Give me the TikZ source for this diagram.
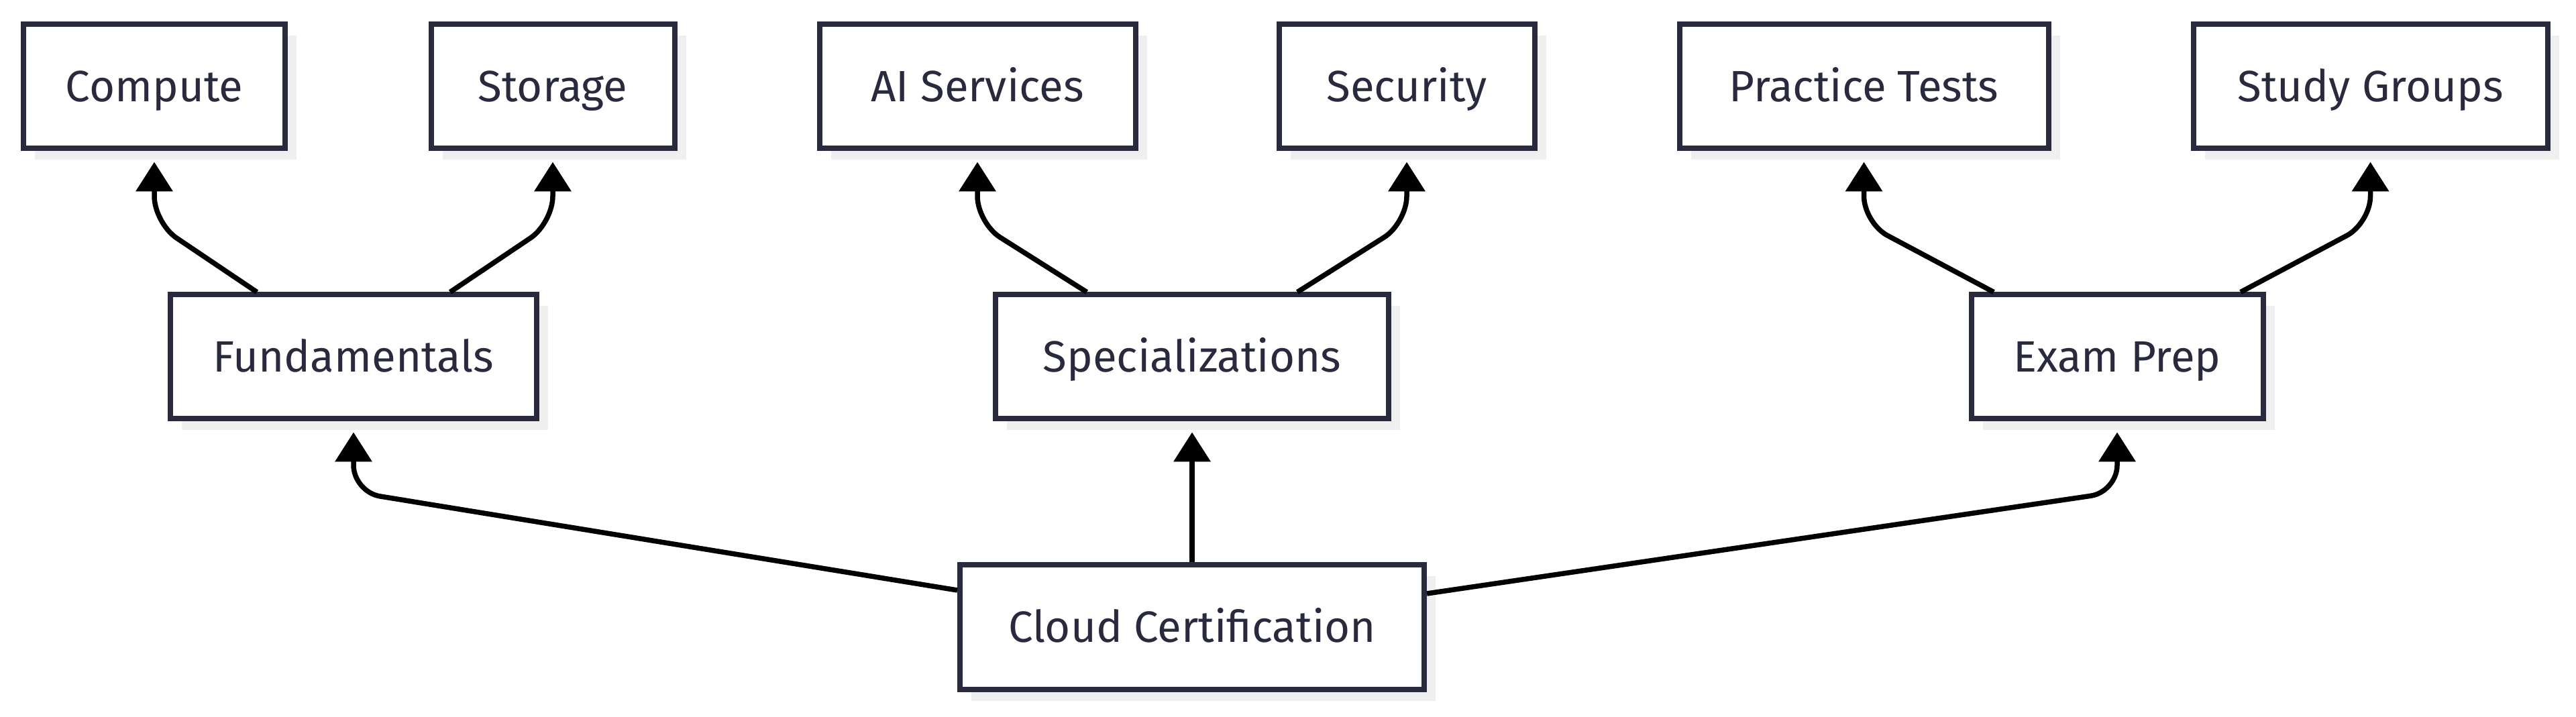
\documentclass[tikz,border=0pt]{standalone}
\definecolor{nodeborder}{RGB}{42,42,62}
\definecolor{shadowgray}{RGB}{239,239,239}
\usepackage{fontspec}
\setmainfont{Fira Sans}
\usepackage{tikz}
\usetikzlibrary{arrows.meta,positioning,shadows}

\begin{document}
\begin{tikzpicture}[
        node distance=2.1cm,
        box/.style={rectangle, draw=nodeborder, fill=white, line width=0.08cm, minimum height=1.85cm, text=nodeborder, font=\fontsize{18.6}{21}\selectfont, text height=12.8pt, text depth=0pt, drop shadow={shadow xshift=0.17cm, shadow yshift=-0.17cm, fill=shadowgray, opacity=1}},
        arrow/.style={-{Triangle[length=0.44cm, width=0.54cm]}, line width=0.075cm, black, shorten >=0.16cm, rounded corners=0.4cm}
    ]
        \useasboundingbox (0,0) rectangle (38.4,10.68);

        % Root
        \node[box, minimum width=6.92cm] (cloud) at (17.77,1.33) {Cloud Certification};

        % Branches
        \node[box, minimum width=5.46cm, above=of cloud, xshift=-12.5cm] (fund) {Fundamentals};
        \node[box, minimum width=5.86cm, above=of cloud] (spec) {Specializations};
        \node[box, minimum width=4.35cm, above=of cloud, xshift=13.79cm] (exam) {Exam Prep};

        % Leaves
        \node[box, minimum width=3.9cm, above=of fund, xshift=-2.97cm] (compute) {Compute};
        \node[box, minimum width=3.63cm, above=of fund, xshift=2.97cm] (storage) {Storage};
        \node[box, minimum width=4.71cm, above=of spec, xshift=-3.2cm] (ai) {AI Services};
        \node[box, minimum width=3.81cm, above=of spec, xshift=3.2cm] (security) {Security};
        \node[box, minimum width=5.5cm, above=of exam, xshift=-3.775cm] (practice) {Practice Tests};
        \node[box, minimum width=5.28cm, above=of exam, xshift=3.775cm] (study) {Study Groups};

        % Arrows
        \draw[arrow] ([yshift=0.55cm]cloud.west) -- ([yshift=-1.05cm]fund.south) -- (fund.south);
        \draw[arrow] (cloud) -- (spec);
        \draw[arrow] ([yshift=0.5cm]cloud.east) -- ([yshift=-1.05cm]exam.south) -- (exam.south);
        \draw[arrow] ([xshift=-1.44cm]fund.north) -- ([yshift=-1.07cm]compute.south) -- (compute.south);
        \draw[arrow] ([xshift=1.44cm]fund.north) -- ([yshift=-1.07cm]storage.south) -- (storage.south);
        \draw[arrow] ([xshift=-1.57cm]spec.north) -- ([yshift=-1.07cm]ai.south) -- (ai.south);
        \draw[arrow] ([xshift=1.57cm]spec.north) -- ([yshift=-1.07cm]security.south) -- (security.south);
        \draw[arrow] ([xshift=-1.84cm]exam.north) -- ([yshift=-1.07cm]practice.south) -- (practice.south);
        \draw[arrow] ([xshift=1.84cm]exam.north) -- ([yshift=-1.07cm]study.south) -- (study.south);
    \end{tikzpicture}
\end{document}
